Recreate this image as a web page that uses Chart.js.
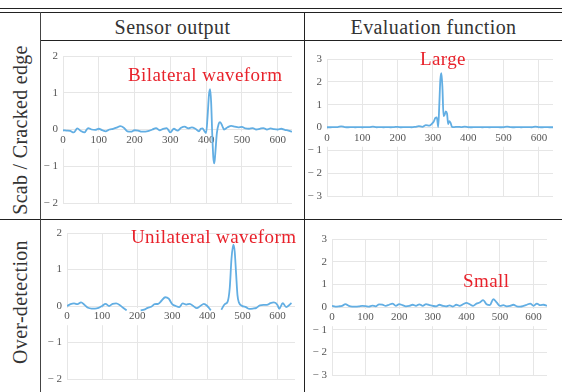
<!DOCTYPE html>
<html>
<head>
<meta charset="utf-8">
<script src="https://cdn.jsdelivr.net/npm/chart.js@4"></script>
<style>
  body { margin: 0; background: #fff; }
  #page { position: relative; width: 562px; height: 392px; overflow: hidden; font-family: "Liberation Serif", "Times New Roman", Times, serif; color: #333; }
  .hl, .vl { position: absolute; background: #222; }
  .hl { height: 1.4px; }
  .vl { width: 1.4px; }
  .head { position: absolute; top: 14px; height: 26px; line-height: 26px; text-align: center; font-size: 20px; letter-spacing: 0.4px; }
  .side { position: absolute; left: 20px; font-size: 20px; letter-spacing: 0.3px; white-space: nowrap; transform: translate(-50%, -50%) rotate(-90deg); }
  .note { position: absolute; color: #e8222b; font-size: 19px; letter-spacing: 0.4px; white-space: nowrap; }
  .cell { position: absolute; }
</style>
</head>
<body>
<div id="page">
  <div class="hl" style="left:0;top:7.5px;width:562px"></div>
  <div class="hl" style="left:0;top:11.5px;width:562px"></div>
  <div class="hl" style="left:40px;top:39.5px;width:522px"></div>
  <div class="hl" style="left:0;top:218.5px;width:562px"></div>
  <div class="vl" style="left:39.5px;top:12px;height:380px;background:#444"></div>
  <div class="vl" style="left:303.5px;top:12px;height:380px"></div>

  <div class="head" style="left:41px;width:263px">Sensor output</div>
  <div class="head" style="left:305px;width:257px">Evaluation function</div>
  <div class="side" style="top:130px">Scab / Cracked edge</div>
  <div class="side" style="top:302px">Over-detection</div>

  <div class="cell" style="left:41px;top:41px;width:262px;height:178px"><canvas id="c1"></canvas></div>
  <div class="cell" style="left:305px;top:41px;width:257px;height:178px"><canvas id="c2"></canvas></div>
  <div class="cell" style="left:41px;top:220px;width:262px;height:172px"><canvas id="c3"></canvas></div>
  <div class="cell" style="left:305px;top:220px;width:257px;height:172px"><canvas id="c4"></canvas></div>

  <div class="note" style="left:128px;top:64px">Bilateral waveform</div>
  <div class="note" style="left:420px;top:48px">Large</div>
  <div class="note" style="left:131px;top:226px">Unilateral waveform</div>
  <div class="note" style="left:463px;top:270px">Small</div>
</div>
<script>
// x axis tick labels shared by all four panels
const xTicks = [0, 100, 200, 300, 400, 500, 600];

// scab / cracked edge - sensor output
const scabSensorX = [0, 10, 20, 30, 40, 50, 60, 70, 80, 90, 100, 110, 120, 130, 140, 150, 160, 170, 180, 190,
  200, 210, 220, 230, 240, 250, 260, 270, 280, 290, 300, 310, 320, 330, 340, 350, 360, 370, 380, 385,
  390, 395, 400, 404, 408, 411, 414, 417, 420, 423, 426, 430, 435, 439, 445, 450, 460, 470, 480, 490,
  500, 510, 520, 530, 540, 550, 560, 570, 580, 590, 600, 610, 620, 630, 640];
const scabSensorY = [-0.02, -0.03, -0.04, -0.08, 0.03, -0.04, -0.08, 0.04, 0.0, -0.01, 0.02, -0.02, -0.05, 0.0, 0.02, 0.05, 0.09, 0.05, -0.05, -0.06,
  -0.02, -0.03, -0.06, -0.06, -0.04, 0.0, 0.04, -0.02, 0.02, 0.04, -0.08, 0.02, -0.03, 0.05, 0.08, 0.03, 0.06, 0.02, -0.05, 0.02,
  0.03, -0.04, -0.1, 0.35, 0.95, 1.1, 0.75, -0.1, -0.75, -0.92, -0.6, -0.1, 0.15, 0.2, 0.1, 0.0, 0.06, 0.1, 0.08, 0.06,
  0.07, 0.03, 0.02, 0.04, 0.0, 0.02, 0.04, 0.0, 0.03, 0.01, 0.0, 0.02, -0.01, -0.03, -0.06];

// scab / cracked edge - evaluation function
const scabEvalX = [0, 10, 20, 30, 40, 50, 60, 70, 80, 90, 100, 110, 120, 130, 140, 150, 160, 170, 180, 190,
  200, 210, 220, 230, 240, 250, 260, 270, 280, 290, 296, 302, 307, 311, 315, 318, 321, 324, 327, 330,
  333, 336, 340, 343, 346, 350, 354, 360, 370, 380, 390, 400, 410, 420, 430, 440, 450, 460, 470, 480,
  490, 500, 510, 520, 530, 540, 550, 560, 570, 580, 590, 600, 610, 620, 630, 640];
const scabEvalY = [0.01, 0.01, 0.02, 0.02, 0.05, 0.02, 0.01, 0.02, 0.01, 0.02, 0.01, 0.02, 0.02, 0.04, 0.01, 0.02, 0.01, 0.02, 0.01, 0.02,
  0.03, 0.01, 0.02, 0.02, 0.01, 0.03, 0.06, 0.03, 0.1, 0.08, 0.15, 0.25, 0.42, 0.44, 0.02, 1.0, 2.1, 2.38, 1.7, 0.5,
  0.55, 0.7, 0.6, 0.15, 0.28, 0.2, 0.03, 0.02, 0.03, 0.02, 0.04, 0.02, 0.01, 0.02, 0.02, 0.01, 0.02, 0.01, 0.02, 0.02,
  0.01, 0.02, 0.04, 0.02, 0.01, 0.02, 0.01, 0.02, 0.02, 0.01, 0.04, 0.02, 0.01, 0.02, 0.01, 0.01];

// over-detection - sensor output
const overSensorX = [0, 10, 20, 30, 40, 50, 60, 70, 80, 90, 100, 110, 120, 130, 140, 150, 160, 170, 190, 210,
  220, 230, 240, 250, 260, 270, 280, 290, 300, 310, 320, 330, 340, 350, 360, 370, 380, 390, 400, 410,
  425, 440, 450, 458, 464, 469, 474, 478, 482, 486, 490, 500, 510, 520, 530, 540, 550, 560, 570, 580,
  590, 600, 605, 615, 625, 640];
const overSensorY = [0.0, 0.05, 0.07, 0.05, 0.1, 0.03, -0.05, -0.07, -0.07, -0.05, 0.0, 0.06, 0.0, 0.06, 0.07, 0.03, -0.05, -0.12, null, -0.12,
  -0.1, -0.05, -0.02, 0.05, 0.06, 0.15, 0.24, 0.2, 0.05, 0.0, -0.03, 0.07, 0.04, 0.06, 0.0, -0.06, 0.0, 0.06, 0.0, -0.12,
  null, -0.1, 0.05, 0.12, 0.5, 1.3, 1.68, 1.5, 0.9, 0.3, 0.1, 0.0, -0.03, -0.08, -0.07, -0.05, 0.02, 0.03, 0.03, 0.08,
  0.1, 0.03, -0.08, 0.08, -0.03, 0.08];

// over-detection - evaluation function
const overEvalX = [0, 10, 20, 30, 40, 50, 60, 70, 80, 90, 100, 110, 120, 130, 140, 150, 160, 170, 180, 190,
  200, 210, 220, 230, 240, 250, 260, 270, 280, 290, 300, 310, 320, 330, 340, 350, 360, 370, 380, 390,
  400, 410, 420, 430, 440, 450, 460, 470, 480, 490, 500, 510, 520, 530, 540, 550, 560, 570, 580, 590,
  600, 610, 620, 630, 640];
const overEvalY = [0.05, 0.02, 0.03, 0.05, 0.13, 0.05, 0.02, 0.02, 0.03, 0.05, 0.04, 0.02, 0.06, 0.03, 0.12, 0.1, 0.05, 0.1, 0.15, 0.05,
  0.13, 0.08, 0.03, 0.05, 0.1, 0.05, 0.12, 0.05, 0.13, 0.08, 0.05, 0.03, 0.1, 0.05, 0.03, 0.07, 0.02, 0.1, 0.05, 0.12,
  0.18, 0.12, 0.05, 0.15, 0.2, 0.3, 0.12, 0.08, 0.35, 0.2, 0.05, 0.08, 0.03, 0.05, 0.1, 0.03, 0.02, 0.05, 0.1, 0.15,
  0.05, 0.15, 0.08, 0.1, 0.05];

const tickFont = { family: '"Liberation Serif", "Times New Roman", serif', size: 11 };
const gridColor = '#e6e6e6';

function minusLabel(v) {
  return v < 0 ? '\u2212 ' + (-v) : String(v);
}

function drawWave(id, xs, ys, yLim, xMax, axisW, pad) {
  const points = xs.map((x, i) => ({ x: x, y: ys[i] }));
  return new Chart(document.getElementById(id), {
    type: 'line',
    data: {
      datasets: [{
        data: points,
        borderColor: '#62aee3',
        borderWidth: 1.8,
        pointRadius: 0,
        cubicInterpolationMode: 'monotone',
        spanGaps: false
      }]
    },
    options: {
      responsive: true,
      maintainAspectRatio: false,
      animation: false,
      layout: { padding: pad },
      plugins: { legend: { display: false }, tooltip: { enabled: false } },
      scales: {
        x: {
          type: 'linear',
          position: { y: 0 },
          min: 0,
          max: xMax,
          afterBuildTicks: s => { s.ticks = xTicks.map(v => ({ value: v })); },
          grid: { color: gridColor, drawTicks: false },
          border: { display: false },
          ticks: {
            autoSkip: false,
            font: tickFont,
            color: '#555',
            padding: 4,
            maxRotation: 0,
            showLabelBackdrop: true,
            backdropColor: '#fff',
            backdropPadding: 2
          }
        },
        y: {
          min: -yLim,
          max: yLim,
          afterFit: s => { s.width = axisW; },
          grid: { color: gridColor, drawTicks: false },
          border: { display: false },
          ticks: {
            stepSize: 1,
            font: tickFont,
            color: '#555',
            padding: 5,
            callback: v => minusLabel(v)
          }
        }
      }
    }
  });
}

drawWave('c1', scabSensorX, scabSensorY, 2, 640, 22, { top: 15, right: 11, bottom: 16, left: 0 });
drawWave('c2', scabEvalX, scabEvalY, 3, 640, 22, { top: 18, right: 9, bottom: 23, left: 0 });
drawWave('c3', overSensorX, overSensorY, 2, 650, 26, { top: 13, right: 8, bottom: 13, left: 0 });
drawWave('c4', overEvalX, overEvalY, 3, 640, 27, { top: 19, right: 15, bottom: 17, left: 0 });
</script>
</body>
</html>
